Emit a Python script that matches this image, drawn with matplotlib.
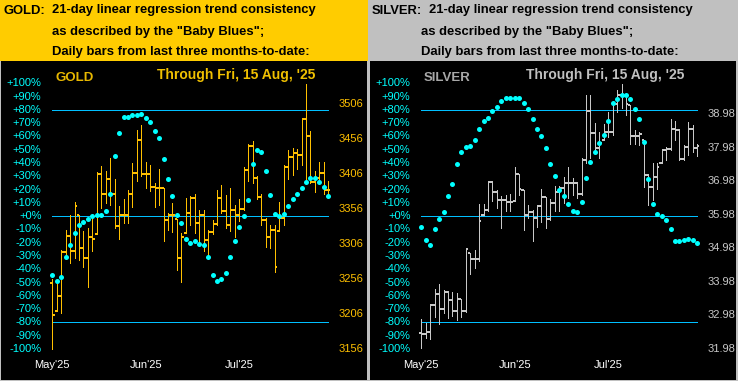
import matplotlib
matplotlib.use("Agg")
import matplotlib.pyplot as plt
from matplotlib.patches import Rectangle

# ---------------- data ----------------
month_labels = ["May'25", "Jun'25", "Jul'25"]
month_label_idx = [0, 21, 42]
pct_ticks = list(range(-100, 101, 10))

gold_price_ticks = [3156, 3206, 3256, 3306, 3356, 3406, 3456, 3506]
silver_price_ticks = [31.98, 32.98, 33.98, 34.98, 35.98, 36.98, 37.98, 38.98]
bb_levels = [80, 0, -80]

gold_open = [3250, 3210, 3231, 3294, 3317, 3296, 3347, 3300, 3285, 3315,
             3320, 3406, 3377, 3398, 3377, 3331, 3347, 3347, 3377, 3407,
             3454, 3405, 3406, 3387, 3386, 3385, 3339, 3347, 3341, 3285,
             3321, 3350, 3371, 3336, 3347, 3311, 3323, 3334, 3371, 3353,
             3332, 3354, 3347, 3356, 3411, 3445, 3399, 3372, 3339, 3315,
             3325, 3324, 3343, 3416, 3430, 3435, 3432, 3484, 3459, 3394,
             3400, 3407, 3383]
gold_high = [3256, 3252, 3297, 3326, 3347, 3366, 3347, 3324, 3328, 3347,
             3408, 3417, 3409, 3428, 3398, 3359, 3369, 3383, 3421, 3468,
             3476, 3423, 3418, 3392, 3413, 3385, 3350, 3364, 3341, 3321,
             3371, 3374, 3377, 3354, 3354, 3326, 3340, 3383, 3389, 3376,
             3386, 3361, 3369, 3416, 3448, 3452, 3402, 3377, 3342, 3332,
             3332, 3366, 3418, 3440, 3443, 3441, 3486, 3534, 3467, 3410,
             3422, 3423, 3395]
gold_low = [3156, 3209, 3207, 3286, 3278, 3285, 3282, 3273, 3244, 3295,
            3320, 3357, 3364, 3361, 3328, 3313, 3335, 3335, 3358, 3395,
            3402, 3385, 3381, 3358, 3361, 3309, 3326, 3323, 3268, 3251,
            3321, 3332, 3321, 3303, 3296, 3290, 3320, 3333, 3349, 3328,
            3324, 3315, 3338, 3354, 3395, 3392, 3369, 3333, 3301, 3300,
            3266, 3324, 3333, 3398, 3404, 3413, 3418, 3392, 3393, 3380,
            3395, 3377, 3376]
gold_close = [3204, 3231, 3294, 3317, 3296, 3359, 3300, 3285, 3315, 3313,
              3406, 3377, 3398, 3377, 3331, 3347, 3347, 3377, 3407, 3454,
              3405, 3406, 3387, 3386, 3386, 3339, 3347, 3347, 3285, 3316,
              3350, 3371, 3336, 3347, 3311, 3323, 3334, 3371, 3353, 3332,
              3354, 3347, 3356, 3411, 3445, 3399, 3372, 3339, 3315, 3325,
              3272, 3343, 3416, 3430, 3435, 3432, 3484, 3459, 3394, 3400,
              3407, 3383, 3383]
gold_bb = [-44, -49, -46, -31, -22, -13, -7, -4, -2, 0,
           1, 1, 4, 17, 45, 63, 75, 75, 76, 76,
           77, 74, 71, 64, 59, 43, 28, 15, 1, -5,
           -17, -20, -19, -21, -22, -31, -44, -49, -47, -43,
           -31, -19, -8, 0, 12, 39, 50, 48, 34, 16,
           2, 0, 2, 8, 13, 17, 21, 26, 29, 29,
           26, 22, 15]

silver_open = [32.45, 32.43, 32.50, 33.29, 33.61, 33.17, 33.69, 33.44, 33.12, 33.46,
               33.12, 34.83, 34.65, 34.67, 35.98, 36.13, 36.95, 36.67, 36.42, 36.42,
               36.37, 36.38, 37.19, 36.72, 35.98, 36.06, 35.88, 36.23, 36.52, 35.86,
               36.32, 36.67, 36.79, 36.92, 36.92, 36.92, 36.59, 37.62, 39.07, 38.41,
               37.96, 38.21, 38.44, 38.46, 39.27, 39.54, 39.53, 39.25, 38.34, 38.32,
               38.20, 37.16, 36.81, 37.11, 37.51, 37.90, 37.95, 38.55, 38.50, 37.63,
               38.00, 38.55, 37.98]
silver_high = [32.87, 32.75, 33.29, 33.77, 33.91, 33.74, 33.72, 33.69, 33.64, 33.46,
               34.95, 34.83, 34.94, 36.29, 36.29, 36.99, 36.99, 36.72, 36.55, 36.57,
               36.59, 37.39, 37.19, 36.72, 36.28, 36.13, 36.28, 36.75, 36.52, 36.45,
               36.85, 36.85, 37.12, 37.39, 37.07, 36.95, 37.66, 39.55, 39.55, 38.71,
               38.46, 38.68, 39.05, 39.35, 39.71, 39.89, 39.59, 39.25, 38.50, 38.45,
               38.20, 37.21, 37.51, 37.51, 37.95, 38.01, 38.85, 38.79, 38.55, 38.05,
               38.75, 38.65, 38.10]
silver_low = [32.00, 32.31, 32.27, 32.94, 32.74, 33.04, 32.89, 32.96, 32.84, 32.92,
              33.09, 34.21, 34.39, 34.61, 35.98, 36.08, 36.38, 36.18, 35.58, 36.08,
              36.08, 36.38, 36.57, 35.53, 35.88, 35.20, 35.63, 35.78, 35.60, 35.83,
              36.08, 36.08, 36.33, 36.47, 36.57, 36.47, 36.57, 37.52, 37.66, 37.86,
              37.66, 38.21, 38.31, 38.36, 39.03, 39.15, 38.95, 38.08, 38.10, 38.05,
              36.81, 36.27, 36.41, 36.76, 37.51, 37.60, 37.90, 38.20, 37.60, 37.60,
              37.75, 37.85, 37.72]
silver_close = [32.43, 32.50, 33.29, 33.61, 33.17, 33.69, 33.44, 33.12, 33.46, 33.12,
                34.95, 34.65, 34.67, 35.80, 36.13, 36.95, 36.67, 36.42, 36.42, 36.37,
                36.37, 37.19, 36.75, 35.98, 36.06, 35.88, 36.23, 36.52, 35.86, 36.32,
                36.67, 36.79, 36.92, 36.92, 36.92, 36.59, 37.62, 39.07, 38.41, 37.96,
                38.11, 38.44, 38.46, 39.27, 39.54, 39.53, 39.29, 38.34, 38.32, 38.40,
                37.16, 36.81, 37.11, 37.39, 37.90, 37.95, 38.55, 38.50, 37.63, 38.00,
                38.55, 37.98, 38.02]
silver_bb = [-8, -18, -22, -10, -2, 3, 15, 24, 39, 48,
             52, 53, 57, 66, 72, 74, 79, 82, 87, 89,
             89, 89, 89, 85, 81, 73, 66, 60, 51, 39,
             30, 20, 15, 9, 4, 3, 11, 29, 41, 48,
             55, 61, 72, 85, 88, 91, 91, 88, 81, 73,
             56, 28, 9, 2, 0, -3, -10, -19, -19, -18,
             -17, -18, -20]

# ---------------- layout ----------------
W, H = 738, 381
DPI = 100
PT = 72.0 / DPI           # points per pixel
FONT = "Liberation Sans"

fig = plt.figure(figsize=(W / DPI, H / DPI), dpi=DPI, facecolor="#c0c0c0")
bg = fig.add_axes([0, 0, 1, 1])
bg.set_xlim(0, W)
bg.set_ylim(H, 0)
bg.axis("off")

# pixel calibration
BAR0_X = 52.3      # x pixel of first bar (relative to panel)
BAR_DX = 4.45      # pixels per bar
PCT0_Y = 216.2     # y pixel of 0%
PCT_PX = 1.3285    # pixels per percent
TOP, BOT = 61, 380


def ftext(x, y, s, **kw):
    """Figure-level text placed in pixel coordinates (drawn above axes)."""
    fig.text(x / W, 1 - y / H, s, **kw)


def draw_panel(x0, head_color, name, head_name, text_x1, name_color, through_color,
               bar_color, price_color, opens, highs, lows, closes, bb, price_ticks,
               price_fmt, p_ref, p_ref_y, p_ppx):
    # header box
    bg.add_patch(Rectangle((x0, 0), 368, 60.5, facecolor=head_color, edgecolor="none"))
    hk = dict(fontsize=9.4, fontweight="bold", family=FONT, color="black", va="baseline")
    bg.text(x0 + 3, 13.5, head_name, **hk)
    bg.text(x0 + text_x1, 13.5, "21-day linear regression trend consistency", **hk)
    bg.text(x0 + 52, 35, 'as described by the "Baby Blues";', **hk)
    bg.text(x0 + 52, 55, "Daily bars from last three months-to-date:", **hk)

    # plot axes over the black area
    ax = fig.add_axes([(x0 + 1) / W, 1 - BOT / H, 366 / W, (BOT - TOP) / H])
    ax.set_facecolor("black")
    ax.set_xlim((1 - BAR0_X) / BAR_DX, (367 - BAR0_X) / BAR_DX)
    ax.set_ylim((PCT0_Y - BOT) / PCT_PX, (PCT0_Y - TOP) / PCT_PX)
    ax.set_xticks([])
    ax.set_yticks([])
    for s in ax.spines.values():
        s.set_visible(False)

    ax2 = ax.twinx()
    ax2.set_ylim(p_ref + (p_ref_y - BOT) / p_ppx, p_ref + (p_ref_y - TOP) / p_ppx)
    ax2.set_yticks([])
    for s in ax2.spines.values():
        s.set_visible(False)

    ax3 = ax2.twinx()
    ax3.set_ylim(ax.get_ylim())
    ax3.set_yticks([])
    for s in ax3.spines.values():
        s.set_visible(False)

    n = len(closes)
    idx = list(range(n))

    # reference lines
    ax.hlines(bb_levels, 0, n - 1, color="#00BFFF", lw=1.0 * PT, zorder=1,
              antialiased=False)

    # OHLC bars
    ax2.vlines(idx, lows, highs, color=bar_color, lw=1.0 * PT, zorder=2,
               antialiased=False)
    ax2.hlines(closes, [i for i in idx], [i + 0.5 for i in idx], color=bar_color,
               lw=2.0 * PT, zorder=2, antialiased=False)
    ax2.hlines(opens, [i - 0.5 for i in idx], [i for i in idx], color=bar_color,
               lw=2.0 * PT, zorder=2, antialiased=False)

    # Baby Blues
    ax3.plot(idx, bb, "o", ms=3.6, color="#00FFFF", mec="none", zorder=5)

    # percent labels
    ytr = ax.get_yaxis_transform()
    for p in pct_ticks:
        lab = ("+%d%%" % p) if p >= 0 else ("%d%%" % p)
        ax.text(40.5 / 366, p, lab, transform=ytr, ha="right", va="center",
                fontsize=8, family=FONT, color="#00FFFF")

    # price labels
    ptr = ax2.get_yaxis_transform()
    for pv in price_ticks:
        ax2.text(338.0 / 366, pv, price_fmt % pv, transform=ptr, ha="left", va="center",
                 fontsize=8, family=FONT, color=price_color)

    # month labels
    xtr = ax.get_xaxis_transform()
    for lab, i in zip(month_labels, month_label_idx):
        ax.text(i, (BOT - 365.5) / (BOT - TOP), lab, transform=xtr, ha="center",
                va="center", fontsize=8, family=FONT, color="white")

    # in-plot titles
    ftext(x0 + 55, 81, name, fontsize=9.5, fontweight="bold", family=FONT,
          color=name_color, va="baseline")
    ftext(x0 + 157, 78.5, "Through Fri, 15 Aug, '25", fontsize=10, fontweight="bold",
          family=FONT, color=through_color, va="baseline")


draw_panel(0, "#FFCC00", "GOLD", "GOLD:", 52, "#E8B800", "#F0C000", "#FFC000", "#FFC000",
           gold_open, gold_high, gold_low, gold_close, gold_bb,
           gold_price_ticks, "%d", 3156, 348.5, 0.70)
draw_panel(369, "#C0C0C0", "SILVER", "SILVER:", 60, "#A8A8A8", "#C0C0C0", "#C8C8C8",
           "#C8C8C8", silver_open, silver_high, silver_low, silver_close, silver_bb,
           silver_price_ticks, "%.2f", 31.98, 349.0, 33.55)

fig.savefig("out.png", dpi=DPI, facecolor=fig.get_facecolor())
